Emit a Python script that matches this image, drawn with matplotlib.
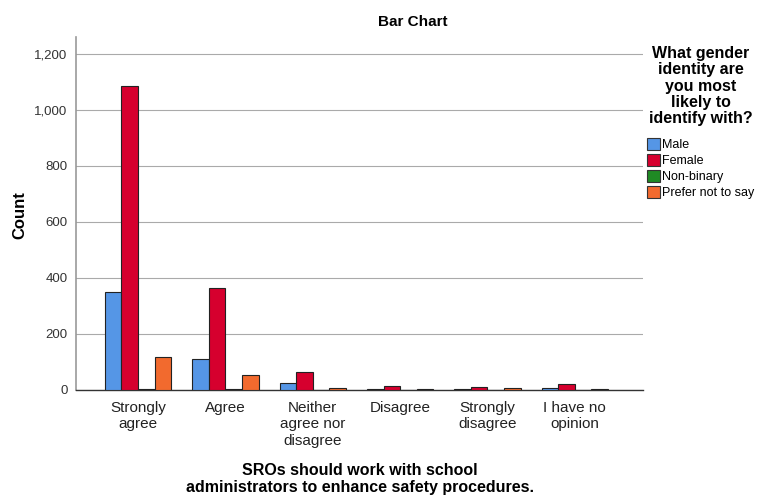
import matplotlib
matplotlib.use("Agg")
import matplotlib.pyplot as plt
import numpy as np
from matplotlib.patches import Patch

plt.rcParams["font.family"] = ["Liberation Sans", "DejaVu Sans"]

categories = ["Strongly\nagree", "Agree", "Neither\nagree nor\ndisagree", "Disagree",
              "Strongly\ndisagree", "I have no\nopinion"]
series_names = ["Male", "Female", "Non-binary", "Prefer not to say"]
male = [350, 110, 24, 4, 2, 6]
female = [1086, 364, 65, 14, 11, 21]
nonbinary = [3, 2, 1, 1, 1, 1]
prefer = [118, 54, 8, 2, 6, 2]
yticks = [0, 200, 400, 600, 800, 1000, 1200]

colors = ["#5596E6", "#D6002E", "#1F8A24", "#F26A2E"]
series = [male, female, nonbinary, prefer]

fig = plt.figure(figsize=(7.59, 4.96), dpi=100)
ax = fig.add_axes([76/759, 1-390/496, (643-76)/759, (390-37)/496])

x = np.arange(len(categories))
w = 0.19
for i, (vals, c) in enumerate(zip(series, colors)):
    ax.bar(x + (i - 1.5) * w, vals, width=w, color=c, edgecolor="#222222",
           linewidth=0.8, zorder=3)

ax.set_xlim(-0.71, 5.78)
ax.set_ylim(0, 1260)
ax.set_yticks(yticks)
ax.set_yticklabels([f"{v:,}" for v in yticks], fontsize=9.5, color="#333333")
ax.set_xticks(x)
ax.set_xticklabels(categories, fontsize=11, color="#222222", va="top", linespacing=1.2)
ax.tick_params(axis="both", length=0, pad=6)
ax.tick_params(axis="x", pad=8)
ax.grid(axis="y", color="#AAAAAA", linewidth=0.8, zorder=0)
for s in ["top", "right"]:
    ax.spines[s].set_visible(False)
ax.spines["left"].set_color("#999999")
ax.spines["left"].set_linewidth(1.2)
ax.spines["bottom"].set_color("#333333")
ax.spines["bottom"].set_linewidth(1.0)

fig.text(20/759, 1-215/496, "Count", rotation=90, ha="center", va="center",
         fontsize=12, fontweight="bold")
fig.text(360/759, 1-479/496, "SROs should work with school\nadministrators to enhance safety procedures.",
         ha="center", va="center", fontsize=11.5, fontweight="bold", linespacing=1.15)
fig.text(413/759, 1-22/496, "Bar Chart", ha="center", va="center", fontsize=11, fontweight="bold")

fig.text(701/759, 1-86/496, "What gender\nidentity are\nyou most\nlikely to\nidentify with?",
         ha="center", va="center", fontsize=11.5, fontweight="bold", linespacing=1.12)
handles = [Patch(facecolor=c, edgecolor="#333333", linewidth=0.8) for c in colors]
leg = fig.legend(handles, series_names, loc="upper left", bbox_to_anchor=(642/759, 1-133/496),
                 frameon=False, fontsize=9, handlelength=1.0, handleheight=1.1,
                 handletextpad=0.2, labelspacing=0.22, borderaxespad=0)

fig.savefig("out.png", dpi=100)
